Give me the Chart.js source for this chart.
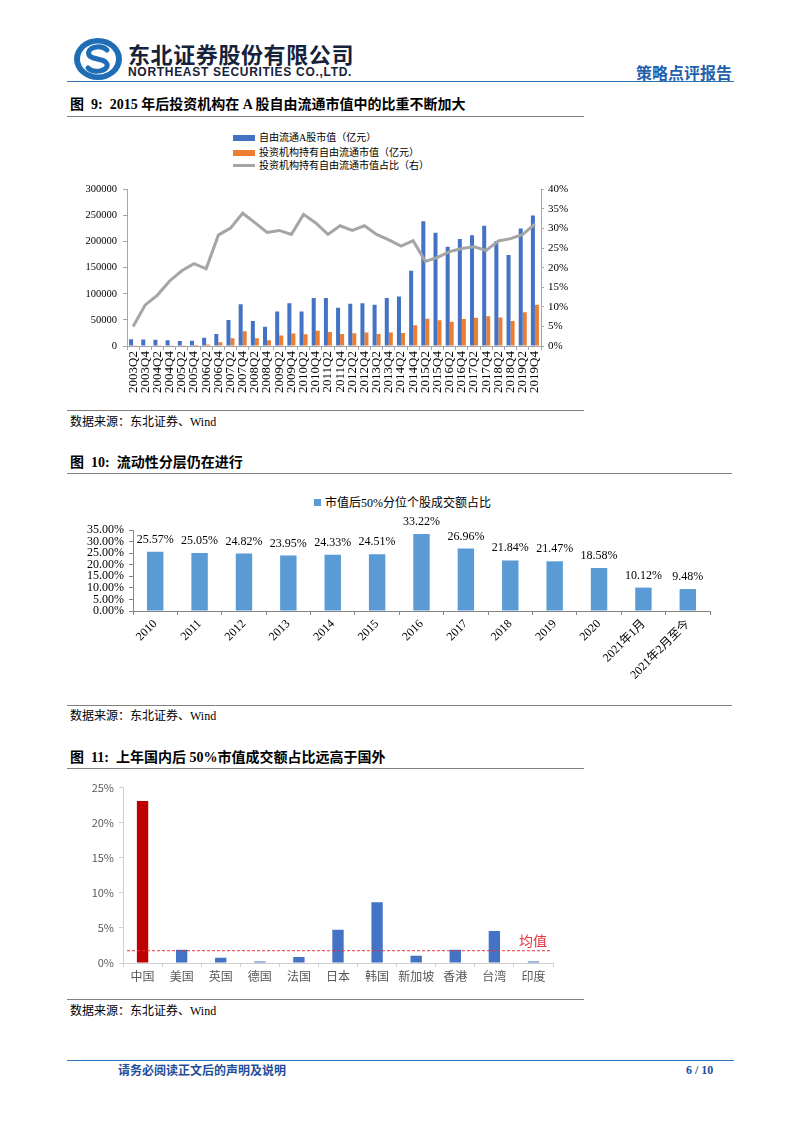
<!DOCTYPE html>
<html lang="zh-CN">
<head>
<meta charset="utf-8">
<title>策略点评报告</title>
<script src="https://cdn.jsdelivr.net/npm/chart.js@4.4.1/dist/chart.umd.min.js"></script>
<style>
  body { margin: 0; background: #fff; }
  #page { position: relative; width: 802px; height: 1133px; overflow: hidden; color: #000;
          font-family: "Liberation Serif", "Noto Sans CJK SC", serif; }
  .abs { position: absolute; white-space: nowrap; }
  .rule { position: absolute; height: 0; border-top: 1.5px solid #808080; }
  .title { font-size: 14px; font-weight: bold; line-height: 18px; }
  .source { font-size: 12px; line-height: 16px; }
  .lg { font-size: 10px; line-height: 14px; }
  canvas { position: absolute; }
</style>
</head>
<body>
<div id="page">
  <!-- header -->
  <svg class="abs" style="left:72px;top:37px" width="52" height="44" viewBox="0 0 52 44">
    <ellipse cx="26" cy="22" rx="24" ry="21" fill="#1f6db5"/>
    <ellipse cx="26" cy="22" rx="18" ry="15.5" fill="#fff"/>
    <path d="M35 13 C29 7 14 10 17 18 C19 23 33 21 35 27 C37 34 22 37 16 31" fill="none" stroke="#1f6db5" stroke-width="5" stroke-linecap="round"/>
  </svg>
  <div class="abs" style="left:128px;top:41px;font:bold 22px/24px 'Noto Sans CJK SC';letter-spacing:0.6px;color:#16213a">东北证券股份有限公司</div>
  <div class="abs" style="left:128px;top:65px;font:bold 12px/14px 'Liberation Sans';letter-spacing:0.7px;color:#16213a">NORTHEAST SECURITIES CO.,LTD.</div>
  <div class="abs" style="left:636px;top:62px;font:bold 16px/20px 'Noto Sans CJK SC';color:#1f5fae">策略点评报告</div>
  <div class="rule" style="left:67px;top:81px;width:667px;border-top-color:#2e75b6"></div>

  <!-- figure 9 -->
  <div class="abs title" style="left:70px;top:96px">图&nbsp; 9:&nbsp; 2015 年后投资机构在 A 股自由流通市值中的比重不断加大</div>
  <div class="rule" style="left:67px;top:116px;width:517px"></div>
  <div class="abs" style="left:233px;top:135px;width:22px;height:6px;background:#4472c4"></div>
  <div class="abs lg" style="left:259px;top:131px">自由流通A股市值（亿元）</div>
  <div class="abs" style="left:233px;top:150px;width:22px;height:6px;background:#ed7d31"></div>
  <div class="abs lg" style="left:259px;top:146px">投资机构持有自由流通市值（亿元）</div>
  <div class="abs" style="left:233px;top:164px;width:22px;height:3px;background:#a5a5a5"></div>
  <div class="abs lg" style="left:259px;top:159px">投资机构持有自由流通市值占比（右）</div>
  <canvas id="chart1" width="517" height="228" style="left:67px;top:177px"></canvas>
  <div class="rule" style="left:67px;top:410px;width:517px"></div>
  <div class="abs source" style="left:70px;top:414px">数据来源：东北证券、Wind</div>

  <!-- figure 10 -->
  <div class="abs title" style="left:70px;top:454px">图&nbsp; 10:&nbsp; 流动性分层仍在进行</div>
  <div class="rule" style="left:67px;top:473px;width:665px"></div>
  <div class="abs" style="left:314px;top:499px;width:7px;height:7px;background:#5b9bd5"></div>
  <div class="abs" style="left:325px;top:495px;font-size:12px;line-height:16px">市值后50%分位个股成交额占比</div>
  <canvas id="chart2" width="667" height="195" style="left:67px;top:495px"></canvas>
  <div class="rule" style="left:67px;top:705px;width:665px"></div>
  <div class="abs source" style="left:70px;top:708px">数据来源：东北证券、Wind</div>

  <!-- figure 11 -->
  <div class="abs title" style="left:70px;top:749px">图&nbsp; 11:&nbsp; 上年国内后 50%市值成交额占比远高于国外</div>
  <div class="rule" style="left:67px;top:768px;width:517px"></div>
  <canvas id="chart3" width="517" height="214" style="left:67px;top:776px"></canvas>
  <div class="rule" style="left:67px;top:999px;width:517px"></div>
  <div class="abs source" style="left:70px;top:1003px">数据来源：东北证券、Wind</div>

  <!-- footer -->
  <div class="rule" style="left:67px;top:1060px;width:667px;border-top-color:#2e75b6"></div>
  <div class="abs" style="left:118px;top:1062px;font:bold 12px/16px 'Noto Sans CJK SC';color:#1f4e9a">请务必阅读正文后的声明及说明</div>
  <div class="abs" style="left:686px;top:1062px;font:bold 12px/16px 'Liberation Serif';color:#1f4e9a">6 / 10</div>
</div>

<script>
// figure 9: half-yearly free float market cap
const quarterLabels = ['2003Q2', '2003Q4', '2004Q2', '2004Q4', '2005Q2', '2005Q4', '2006Q2', '2006Q4',
  '2007Q2', '2007Q4', '2008Q2', '2008Q4', '2009Q2', '2009Q4', '2010Q2', '2010Q4', '2011Q2', '2011Q4',
  '2012Q2', '2012Q4', '2013Q2', '2013Q4', '2014Q2', '2014Q4', '2015Q2', '2015Q4', '2016Q2', '2016Q4',
  '2017Q2', '2017Q4', '2018Q2', '2018Q4', '2019Q2', '2019Q4'];
const freeFloatCap = [13000, 12500, 12000, 11000, 9500, 10000, 16000, 23000, 50000, 80000, 48000, 37000,
  66000, 82000, 66000, 92000, 92000, 73000, 81000, 82000, 79000, 92000, 95000, 144000, 239000, 217000,
  190000, 205000, 212000, 230000, 201000, 174000, 225000, 250000];
const instHolding = [700, 900, 1200, 1200, 1300, 2000, 3000, 7000, 15000, 28000, 15000, 11000,
  20000, 24000, 22500, 29000, 27000, 23000, 24500, 26000, 23000, 26000, 25000, 39500, 52000, 49500,
  46500, 51500, 54000, 57000, 54500, 48000, 64500, 79000];
const instShare = [5.0, 10.5, 13.0, 16.6, 19.2, 21.0, 19.7, 28.3, 30.1, 33.9, 31.5, 29.0,
  29.5, 28.5, 33.6, 31.4, 28.5, 30.7, 29.5, 30.7, 28.5, 27.1, 25.5, 26.9, 21.6, 22.6,
  24.1, 24.9, 25.3, 24.4, 26.8, 27.4, 28.5, 31.1];

// figure 10
const yearLabels = ['2010', '2011', '2012', '2013', '2014', '2015', '2016', '2017', '2018', '2019', '2020', '2021年1月', '2021年2月至今'];
const smallCapTurnover = [25.57, 25.05, 24.82, 23.95, 24.33, 24.51, 33.22, 26.96, 21.84, 21.47, 18.58, 10.12, 9.48];

// figure 11
const countryLabels = ['中国', '美国', '英国', '德国', '法国', '日本', '韩国', '新加坡', '香港', '台湾', '印度'];
const countryValues = [23.1, 1.9, 0.75, 0.2, 0.85, 4.75, 8.66, 1.04, 1.9, 4.57, 0.2];
const avgValue = 1.75;

const SERIF = '"Liberation Serif", "Noto Sans CJK SC", serif';
const SANS = '"Noto Sans CJK SC", sans-serif';
Chart.defaults.font.family = SERIF;
Chart.defaults.color = '#000';
Chart.defaults.animation = false;

// fixed axis sizes so the plot areas line up with the page
const fixWidth = (w) => (scale) => { scale.width = w; };
const fixHeight = (h) => (scale) => { scale.height = h; };

new Chart(document.getElementById('chart1'), {
  data: {
    labels: quarterLabels,
    datasets: [
      { type: 'line', label: '投资机构持有自由流通市值占比（右）', data: instShare, yAxisID: 'y1',
        borderColor: '#a5a5a5', borderWidth: 3, pointRadius: 0, tension: 0, order: 0 },
      { type: 'bar', label: '自由流通A股市值（亿元）', data: freeFloatCap, yAxisID: 'y',
        backgroundColor: '#4472c4', barPercentage: 1, categoryPercentage: 0.66, order: 1 },
      { type: 'bar', label: '投资机构持有自由流通市值（亿元）', data: instHolding, yAxisID: 'y',
        backgroundColor: '#ed7d31', barPercentage: 1, categoryPercentage: 0.66, order: 1 },
    ],
  },
  options: {
    responsive: false,
    layout: { padding: { top: 10, left: 0, right: 0, bottom: 0 } },
    plugins: { legend: { display: false }, tooltip: { enabled: false } },
    scales: {
      x: {
        grid: { drawOnChartArea: false, tickLength: 4, color: '#a6a6a6' },
        border: { color: '#a6a6a6' },
        ticks: { font: { size: 13 }, minRotation: 90, maxRotation: 90, autoSkip: false, padding: 1 },
        afterFit: fixHeight(59),
      },
      y: {
        position: 'left', min: 0, max: 300000,
        grid: { drawOnChartArea: false, tickLength: 4, color: '#a6a6a6' },
        border: { color: '#a6a6a6' },
        ticks: { stepSize: 50000, font: { size: 10.5 }, padding: 6, autoSkip: false, callback: (v) => String(v) },
        afterFit: fixWidth(60),
      },
      y1: {
        position: 'right', min: 0, max: 40,
        grid: { drawOnChartArea: false, tickLength: 3, color: '#a6a6a6' },
        border: { color: '#a6a6a6' },
        ticks: { stepSize: 5, font: { size: 11 }, padding: 4, autoSkip: false, callback: (v) => v + '%' },
        afterFit: fixWidth(43),
      },
    },
  },
});

const barValueLabels = {
  id: 'barValueLabels',
  afterDatasetsDraw(chart) {
    const ctx = chart.ctx;
    const meta = chart.getDatasetMeta(0);
    ctx.save();
    ctx.font = '12px ' + SERIF;
    ctx.fillStyle = '#000';
    ctx.textAlign = 'center';
    ctx.textBaseline = 'alphabetic';
    meta.data.forEach((bar, i) => {
      ctx.fillText(smallCapTurnover[i].toFixed(2) + '%', bar.x, bar.y - 9);
    });
    ctx.restore();
  },
};

new Chart(document.getElementById('chart2'), {
  type: 'bar',
  data: {
    labels: yearLabels,
    datasets: [{ label: '市值后50%分位个股成交额占比', data: smallCapTurnover,
      backgroundColor: '#5b9bd5', barPercentage: 0.74, categoryPercentage: 0.5 }],
  },
  options: {
    responsive: false,
    layout: { padding: { top: 35, right: 24, left: 0, bottom: 0 } },
    plugins: { legend: { display: false }, tooltip: { enabled: false } },
    scales: {
      x: {
        grid: { drawOnChartArea: false, tickLength: 4, color: '#868686' },
        border: { color: '#868686' },
        ticks: { font: { size: 12 }, minRotation: 45, maxRotation: 45, autoSkip: false, padding: 2 },
        afterFit: fixHeight(79),
      },
      y: {
        min: 0, max: 35,
        grid: { drawOnChartArea: false, tickLength: 4, color: '#868686' },
        border: { color: '#868686' },
        ticks: { stepSize: 5, font: { size: 12 }, padding: 5, autoSkip: false, callback: (v) => v.toFixed(2) + '%' },
        afterFit: fixWidth(66),
      },
    },
  },
  plugins: [barValueLabels],
});

const avgLine = {
  id: 'avgLine',
  afterDatasetsDraw(chart) {
    const { ctx, chartArea, scales } = chart;
    const y = scales.y.getPixelForValue(avgValue);
    ctx.save();
    ctx.strokeStyle = '#e8333a';
    ctx.lineWidth = 1;
    ctx.setLineDash([3, 2]);
    ctx.beginPath();
    ctx.moveTo(chartArea.left + 4, y);
    ctx.lineTo(chartArea.right - 3, y);
    ctx.stroke();
    ctx.setLineDash([]);
    ctx.fillStyle = '#e8333a';
    ctx.font = '14px ' + SANS;
    ctx.textAlign = 'center';
    ctx.textBaseline = 'alphabetic';
    ctx.fillText('均值', chartArea.right - 20, y - 5);
    ctx.restore();
  },
};

new Chart(document.getElementById('chart3'), {
  type: 'bar',
  data: {
    labels: countryLabels,
    datasets: [{ data: countryValues,
      backgroundColor: countryLabels.map((c, i) => (i === 0 ? '#c00000' : '#4472c4')),
      barPercentage: 0.58, categoryPercentage: 0.5 }],
  },
  options: {
    responsive: false,
    layout: { padding: { top: 10, right: 31, left: 0, bottom: 0 } },
    plugins: { legend: { display: false }, tooltip: { enabled: false } },
    scales: {
      x: {
        grid: { drawOnChartArea: false, tickLength: 4, color: '#d0d0d0' },
        border: { color: '#d0d0d0' },
        ticks: { font: { size: 12, family: SANS }, color: '#595959', autoSkip: false, maxRotation: 0, padding: 2 },
        afterFit: fixHeight(27),
      },
      y: {
        min: 0, max: 25,
        grid: { drawOnChartArea: false, tickLength: 4, color: '#d0d0d0' },
        border: { color: '#d0d0d0' },
        ticks: { stepSize: 5, font: { size: 11, family: SANS }, color: '#595959', padding: 5, callback: (v) => v + '%' },
        afterFit: fixWidth(56),
      },
    },
  },
  plugins: [avgLine],
});
</script>
</body>
</html>
